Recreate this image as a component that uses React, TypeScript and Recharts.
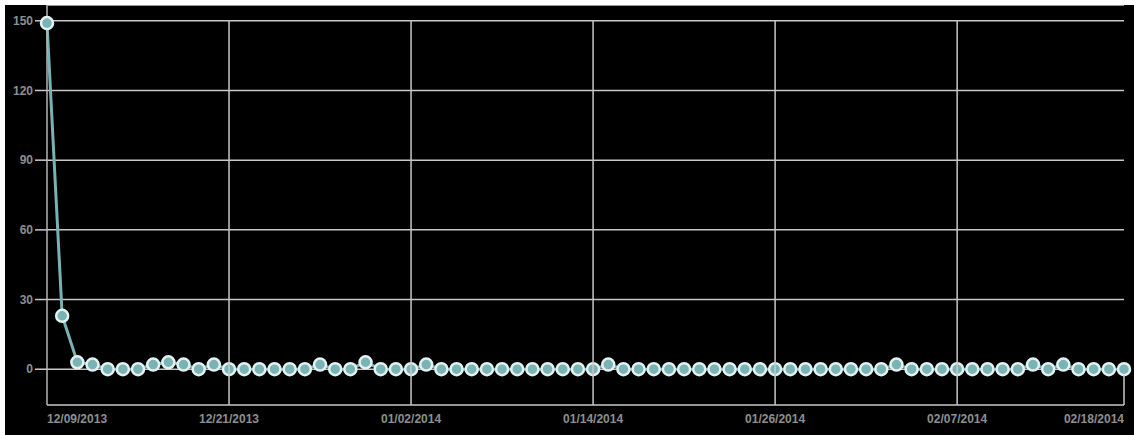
import React from "react";
import { LineChart, Line, XAxis, YAxis, CartesianGrid } from "recharts";

// Daily counts, 12/09/2013 .. 02/18/2014, on a black panel.

const DATES = [
  "12/09/2013", "12/10/2013", "12/11/2013", "12/12/2013", "12/13/2013", "12/14/2013", "12/15/2013", "12/16/2013",
  "12/17/2013", "12/18/2013", "12/19/2013", "12/20/2013", "12/21/2013", "12/22/2013", "12/23/2013", "12/24/2013",
  "12/25/2013", "12/26/2013", "12/27/2013", "12/28/2013", "12/29/2013", "12/30/2013", "12/31/2013",
  "01/01/2014", "01/02/2014", "01/03/2014", "01/04/2014", "01/05/2014", "01/06/2014", "01/07/2014", "01/08/2014",
  "01/09/2014", "01/10/2014", "01/11/2014", "01/12/2014", "01/13/2014", "01/14/2014", "01/15/2014", "01/16/2014",
  "01/17/2014", "01/18/2014", "01/19/2014", "01/20/2014", "01/21/2014", "01/22/2014", "01/23/2014", "01/24/2014",
  "01/25/2014", "01/26/2014", "01/27/2014", "01/28/2014", "01/29/2014", "01/30/2014", "01/31/2014",
  "02/01/2014", "02/02/2014", "02/03/2014", "02/04/2014", "02/05/2014", "02/06/2014", "02/07/2014", "02/08/2014",
  "02/09/2014", "02/10/2014", "02/11/2014", "02/12/2014", "02/13/2014", "02/14/2014", "02/15/2014", "02/16/2014",
  "02/17/2014", "02/18/2014",
];

const COUNTS = [
  149, 23, 3, 2, 0, 0, 0, 2, 3, 2, 0, 2, 0, 0, 0, 0,
  0, 0, 2, 0, 0, 3, 0,
  0, 0, 2, 0, 0, 0, 0, 0,
  0, 0, 0, 0, 0, 0, 2, 0,
  0, 0, 0, 0, 0, 0, 0, 0,
  0, 0, 0, 0, 0, 0, 0,
  0, 0, 2, 0, 0, 0, 0, 0,
  0, 0, 0, 2, 0, 2, 0, 0,
  0, 0,
];

const X_TICKS = ["12/09/2013", "12/21/2013", "01/02/2014", "01/14/2014", "01/26/2014", "02/07/2014", "02/18/2014"];
const Y_TICKS = [0, 30, 60, 90, 120, 150];

const data = DATES.map((date, i) => ({ date, count: COUNTS[i] }));

const W = 1129;
const H = 430;
const X_AXIS_H = 30;
const Y_MIN = -15.4;
const Y_MAX = 156.8;
const PLOT_H = H - X_AXIS_H;
const GRID_TOP = PLOT_H - ((150 - Y_MIN) / (Y_MAX - Y_MIN)) * PLOT_H;

const FONT = "'Liberation Sans', Arial, sans-serif";
const LABEL = "#8e8e8e";
const GRID = "#c8c8c8";

function DateTick(props: any) {
  const { x, y, payload } = props;
  const k = X_TICKS.indexOf(payload.value);
  if (k < 0) return null;
  const first = k === 0;
  const last = k === X_TICKS.length - 1;
  const anchor = first ? "start" : last ? "end" : "middle";
  return (
    <g>
      {!first && (
        <line x1={x} x2={x} y1={last ? y - 30 : y - PLOT_H + GRID_TOP} y2={y} stroke={GRID} strokeWidth={1.5} />
      )}
      <text x={x} y={y + 18} textAnchor={anchor} fill={LABEL} fontSize={12} fontWeight="bold" fontFamily={FONT}>
        {payload.value}
      </text>
    </g>
  );
}

export default function App() {
  return (
    <div style={{ position: "absolute", left: 0, top: 0, width: 1134, height: 435, background: "#fff" }}>
      <div style={{ position: "absolute", left: 5, top: 5, width: W, height: H, background: "#000" }}>
        <LineChart width={W} height={H} data={data} margin={{ top: 0, right: 10, bottom: 0, left: 0 }}>
          <CartesianGrid vertical={false} stroke={GRID} strokeWidth={1.5} />
          <XAxis
            dataKey="date"
            height={X_AXIS_H}
            interval={0}
            tickSize={0}
            tickMargin={0}
            axisLine={false}
            tickLine={false}
            tick={<DateTick />}
          />
          <YAxis
            width={42}
            domain={[Y_MIN, Y_MAX]}
            ticks={Y_TICKS}
            allowDataOverflow
            tickSize={12}
            tickMargin={2}
            axisLine={{ stroke: "#b4b4b4", strokeWidth: 1.5 }}
            tickLine={{ stroke: GRID, strokeWidth: 1.5 }}
            tick={{ fill: LABEL, fontSize: 12, fontWeight: "bold", fontFamily: FONT }}
          />
          <Line
            type="linear"
            dataKey="count"
            stroke="#79b2b4"
            strokeWidth={3}
            dot={{ r: 6, fill: "#7ab3b5", stroke: "#e4f1f1", strokeWidth: 2.5 }}
            activeDot={false}
            isAnimationActive={false}
          />
        </LineChart>
      </div>
    </div>
  );
}
